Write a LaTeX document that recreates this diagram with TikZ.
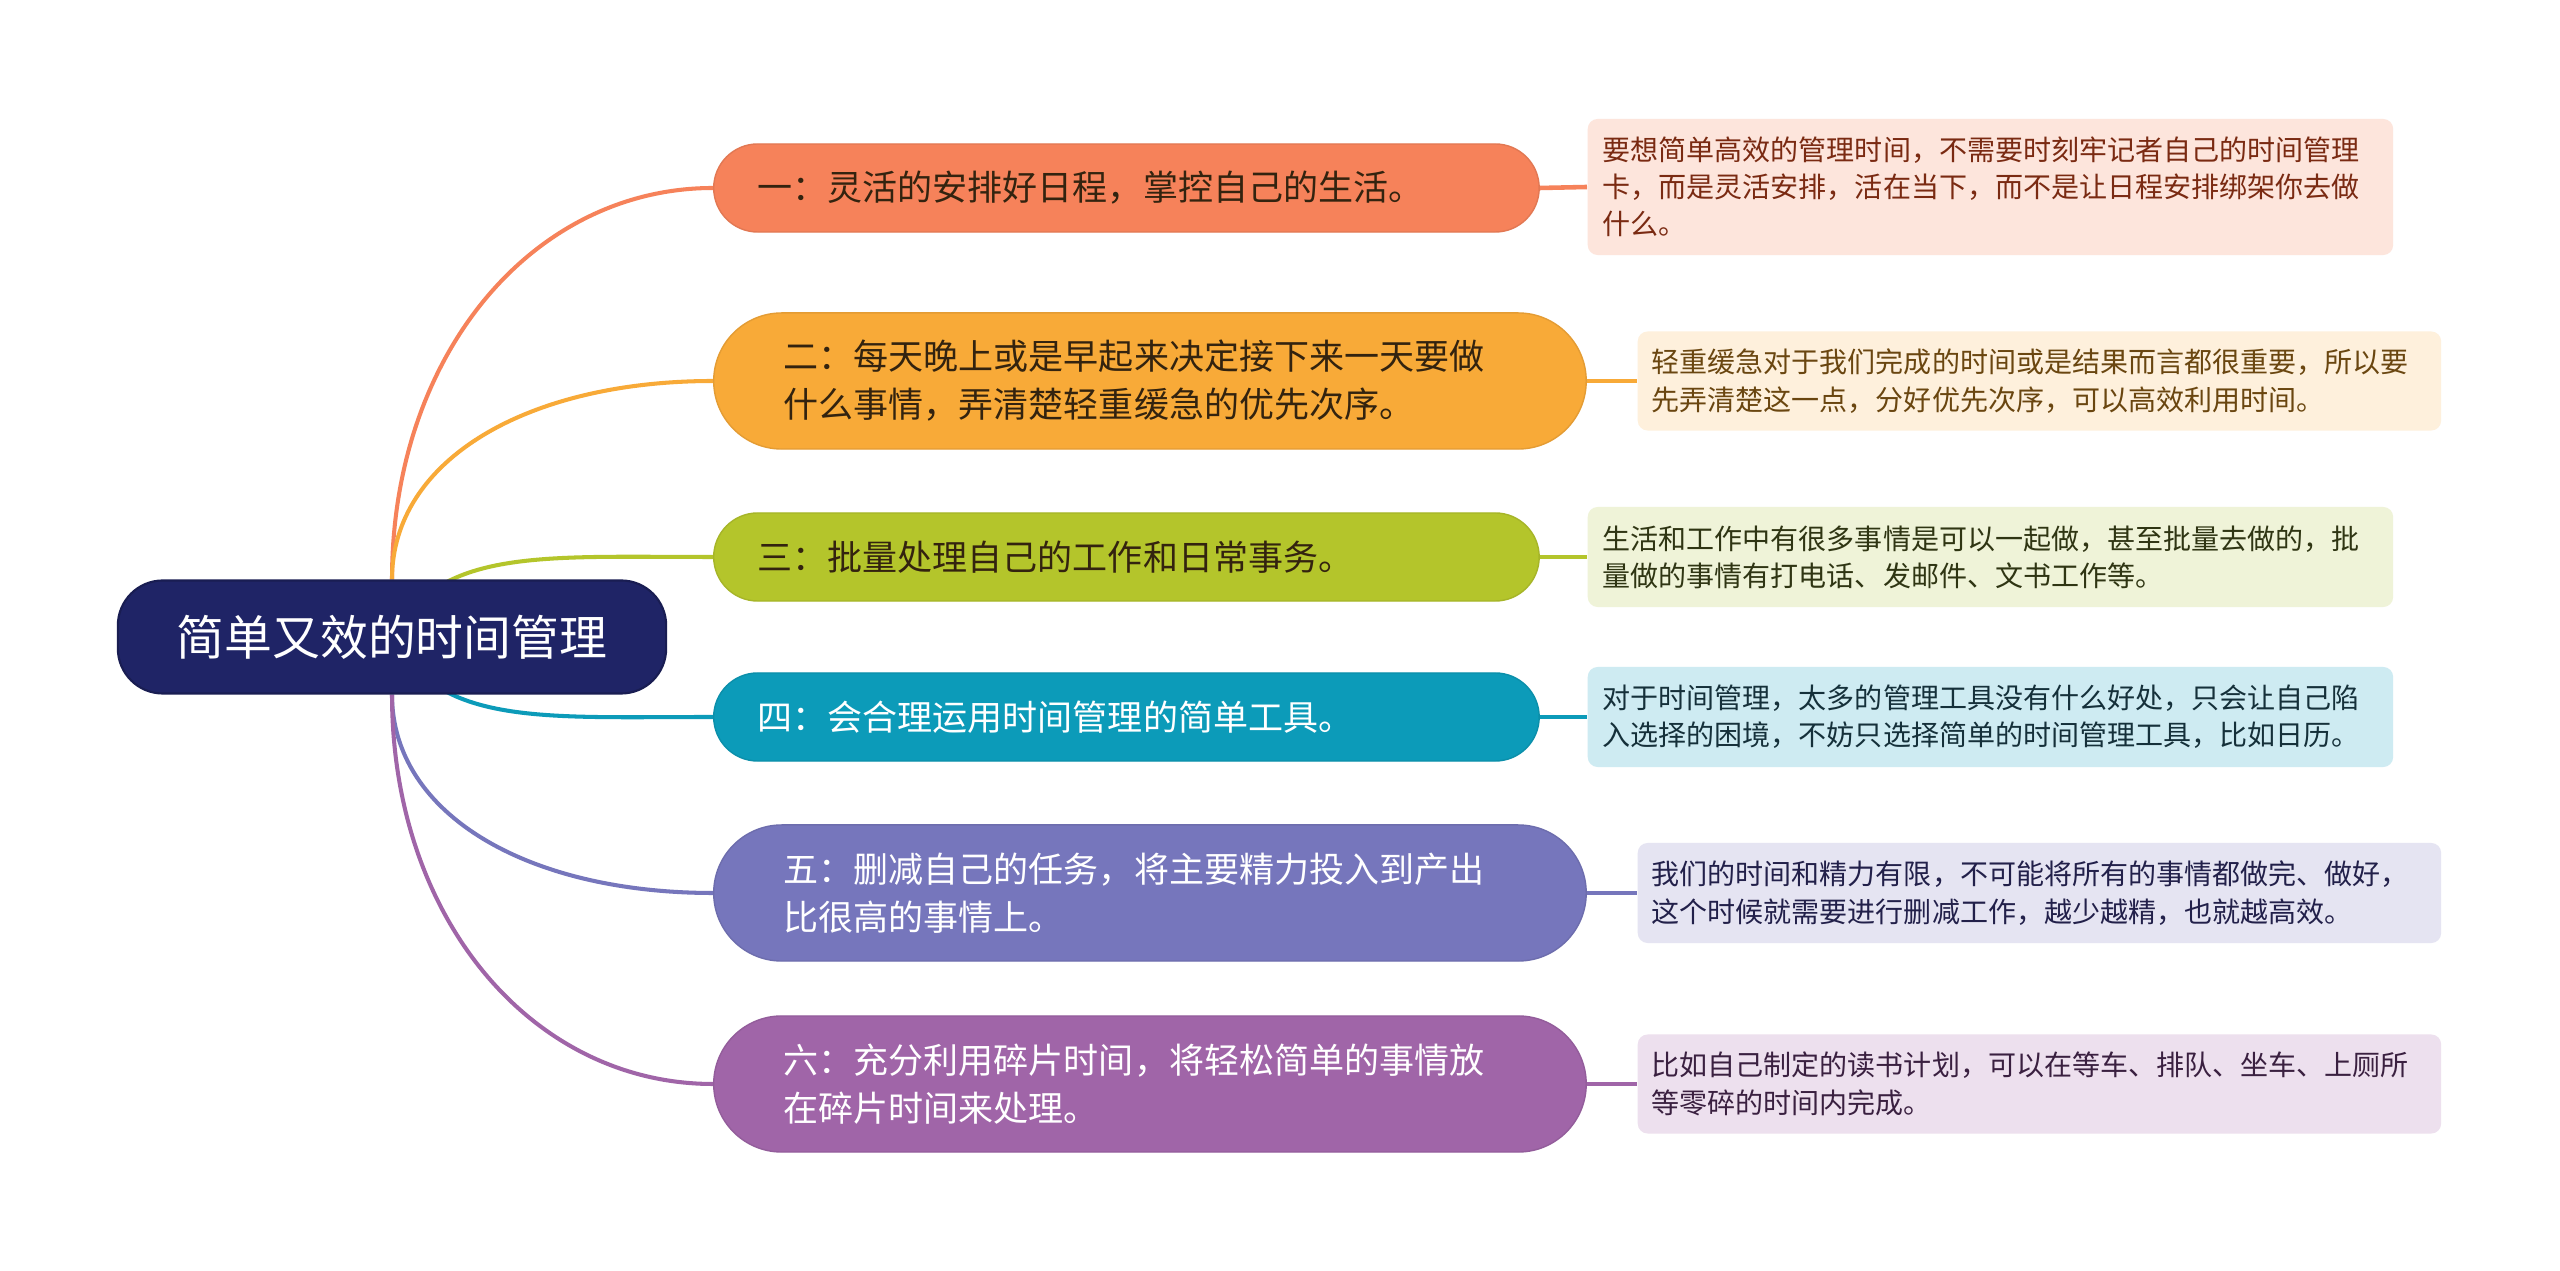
\documentclass[tikz,border=0pt]{standalone}
\usepackage{fontspec}
\setmainfont{Noto Sans CJK SC}
\pgfdeclarelayer{bg}
\pgfsetlayers{bg,main}
\definecolor{rootc}{HTML}{1F2466}
\definecolor{c1}{HTML}{F6825A}
\definecolor{c2}{HTML}{F8AA38}
\definecolor{c3}{HTML}{B4C52B}
\definecolor{c4}{HTML}{0C9BB9}
\definecolor{c5}{HTML}{7676BC}
\definecolor{c6}{HTML}{A065A8}
\definecolor{n1}{HTML}{FDE5DC}
\definecolor{n2}{HTML}{FEF0DC}
\definecolor{n3}{HTML}{EFF3D8}
\definecolor{n4}{HTML}{CEEBF2}
\definecolor{n5}{HTML}{E5E4F2}
\definecolor{n6}{HTML}{EDE0EE}
\definecolor{t1}{HTML}{7A2A12}
\definecolor{t2}{HTML}{6A4610}
\definecolor{t3}{HTML}{2F3513}
\definecolor{t4}{HTML}{15303A}
\definecolor{t5}{HTML}{22204A}
\definecolor{t6}{HTML}{3A2040}
\definecolor{darkt}{HTML}{33230F}
\tikzset{
  rootbox/.style={draw=rootc!80!black, line width=0.6pt, fill=rootc, text=white, rounded corners=0.45cm,
    minimum width=5.48cm, minimum height=1.13cm, inner sep=0pt,
    font=\fontsize{13.6pt}{16pt}\selectfont},
  brone/.style={anchor=west, rounded corners=0.44cm, minimum height=0.88cm,
    inner xsep=0.44cm, inner ysep=0pt, text width=7.37cm, align=left,
    font=\fontsize{9.96pt}{13.66pt}\selectfont},
  brtwo/.style={anchor=west, rounded corners=0.68cm, minimum height=1.36cm,
    inner xsep=0.70cm, inner ysep=0pt, text width=7.32cm, align=left,
    font=\fontsize{9.96pt}{13.66pt}\selectfont},
  notebox/.style={anchor=west, rounded corners=0.1cm, inner xsep=0.15cm, inner ysep=0pt,
    text width=7.75cm, align=left, font=\fontsize{7.97pt}{10.6pt}\selectfont},
  curve/.style={line width=1.15pt},
  link/.style={line width=1.3pt}
}
\begin{document}
\begin{tikzpicture}[x=0.01cm,y=-0.01cm]
\useasboundingbox (0,0) rectangle (2560,1271);

\node[rootbox] (root) at (392,637) {简单又效的时间管理};
\coordinate (rt) at (root.north);
\coordinate (rb) at (root.south);

\node[brone, fill=c1, draw=c1!92!black, line width=0.4pt, text=darkt] (b1) at (713,188) {一：灵活的安排好日程，掌控自己的生活。};
\node[brtwo, fill=c2, draw=c2!92!black, line width=0.4pt, text=darkt] (b2) at (713,381) {二：每天晚上或是早起来决定接下来一天要做\\什么事情，弄清楚轻重缓急的优先次序。};
\node[brone, fill=c3, draw=c3!92!black, line width=0.4pt, text=darkt] (b3) at (713,557) {三：批量处理自己的工作和日常事务。};
\node[brone, fill=c4, draw=c4!92!black, line width=0.4pt, text=white] (b4) at (713,717) {四：会合理运用时间管理的简单工具。};
\node[brtwo, fill=c5, draw=c5!92!black, line width=0.4pt, text=white] (b5) at (713,893) {五：删减自己的任务，将主要精力投入到产出\\比很高的事情上。};
\node[brtwo, fill=c6, draw=c6!92!black, line width=0.4pt, text=white] (b6) at (713,1084) {六：充分利用碎片时间，将轻松简单的事情放\\在碎片时间来处理。};

\node[notebox, fill=n1, text=t1, minimum height=1.36cm] (m1) at (1587,187) {要想简单高效的管理时间，不需要时刻牢记者自己的时间管理\\卡，而是灵活安排，活在当下，而不是让日程安排绑架你去做\\什么。};
\node[notebox, fill=n2, text=t2, minimum height=0.99cm, inner xsep=0.14cm] (m2) at (1637,381) {轻重缓急对于我们完成的时间或是结果而言都很重要，所以要\\先弄清楚这一点，分好优先次序，可以高效利用时间。};
\node[notebox, fill=n3, text=t3, minimum height=1.0cm] (m3) at (1587,557) {生活和工作中有很多事情是可以一起做，甚至批量去做的，批\\量做的事情有打电话、发邮件、文书工作等。};
\node[notebox, fill=n4, text=t4, minimum height=1.0cm] (m4) at (1587,717) {对于时间管理，太多的管理工具没有什么好处，只会让自己陷\\入选择的困境，不妨只选择简单的时间管理工具，比如日历。};
\node[notebox, fill=n5, text=t5, minimum height=1.0cm, inner xsep=0.14cm] (m5) at (1637,893) {我们的时间和精力有限，不可能将所有的事情都做完、做好，\\这个时候就需要进行删减工作，越少越精，也就越高效。};
\node[notebox, fill=n6, text=t6, minimum height=0.99cm, inner xsep=0.14cm] (m6) at (1637,1084) {比如自己制定的读书计划，可以在等车、排队、坐车、上厕所\\等零碎的时间内完成。};

\begin{pgfonlayer}{bg}
\fill[white] (0,0) rectangle (2560,1271);
\draw[curve, c1] (rt) .. controls +(0,-225) and +(-180,0) .. (b1.west);
\draw[curve, c2] (rt) .. controls +(0,-120) and +(-185,0) .. (b2.west);
\draw[curve, c3] (root.center) .. controls +(48,-89) and +(-173,0) .. (b3.west);
\draw[curve, c4] (root.center) .. controls +(48,89) and +(-173,0) .. (b4.west);
\draw[curve, c5] (rb) .. controls +(0,120) and +(-185,0) .. (b5.west);
\draw[curve, c6] (rb) .. controls +(0,225) and +(-180,0) .. (b6.west);
\draw[link, c1] (b1.east) -- (m1.west);
\draw[link, c2] (b2.east) -- (m2.west);
\draw[link, c3] (b3.east) -- (m3.west);
\draw[link, c4] (b4.east) -- (m4.west);
\draw[link, c5] (b5.east) -- (m5.west);
\draw[link, c6] (b6.east) -- (m6.west);
\end{pgfonlayer}
\end{tikzpicture}
\end{document}
